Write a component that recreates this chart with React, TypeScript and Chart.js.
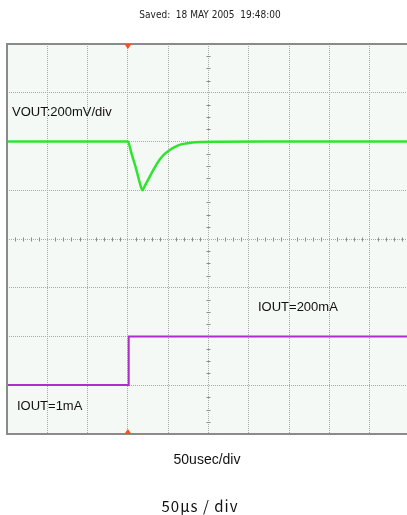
import React, { useEffect, useRef } from "react";
import { Chart, registerables } from "chart.js";

Chart.register(...registerables);

// Time axis: 50 us/div, visible window slightly under 10 divisions (right edge cut off)
const TIME_PER_DIV = 50;
const X_MAX = 496.3;
const TRIGGER_US = 150;

// VOUT channel: 200 mV/div, trace ground placed at +2 div
const VOUT_MV_PER_DIV = 200;
const VOUT_OFFSET_DIV = 2;
const voutTime = [0, 60, 120, 150, 154, 159, 163, 166, 168, 171, 177, 183, 190, 196, 202, 208, 215, 222, 230, 240, 260, 320, 400, 496.3];
const voutMv = [0, 0, 0, 0, -44, -98, -148, -184, -200, -182, -145, -108, -72, -50, -35, -23, -13, -8, -4, -2, -1, 0, 0, 0];

// IOUT channel: 200 mA/div, zero placed at -3 div
const IOUT_MA_PER_DIV = 200;
const IOUT_OFFSET_DIV = -3;
const ioutTime = [0, 151, 151, 496.3];
const ioutMa = [1, 1, 200, 200];

const savedText = "Saved:  18 MAY 2005  19:48:00";
const voutLabel = "VOUT:200mV/div";
const ioutHighLabel = "IOUT=200mA";
const ioutLowLabel = "IOUT=1mA";
const timebaseLabel = "50usec/div";
const timebaseLabel2 = "50\u03bcs / div";

const GREEN = "#2ee52e";
const PURPLE = "#b02ccf";
const GRID = "#aaaaaa";
const FRAME = "#8a8a8a";
const PLOT_BG = "#f4f9f5";
const TRIG = "#f4531c";

const scopePlugin = {
  id: "scopeDecor",
  beforeDraw(chart: any) {
    const { ctx, chartArea } = chart;
    ctx.save();
    ctx.fillStyle = "#ffffff";
    ctx.fillRect(0, 0, chart.width, chart.height);
    ctx.fillStyle = PLOT_BG;
    ctx.fillRect(chartArea.left, chartArea.top, chartArea.right - chartArea.left, chartArea.bottom - chartArea.top);
    ctx.restore();
  },
  afterDatasetsDraw(chart: any) {
    const { ctx, chartArea, scales } = chart;
    const xs = scales.x;
    const ys = scales.y;
    ctx.save();
    // center axis minor ticks
    ctx.strokeStyle = "#8a8a8a";
    ctx.lineWidth = 1;
    const y0 = Math.round(ys.getPixelForValue(0)) + 0.5;
    for (let t = 0; t <= X_MAX; t += TIME_PER_DIV / 5) {
      if (Math.abs(t % TIME_PER_DIV) < 1e-6) continue;
      const px = Math.round(xs.getPixelForValue(t)) + 0.5;
      ctx.beginPath();
      ctx.moveTo(px, y0 - 2);
      ctx.lineTo(px, y0 + 2);
      ctx.stroke();
    }
    const xc = Math.round(xs.getPixelForValue(250)) + 0.5;
    for (let v = -4; v <= 4; v += 0.25) {
      if (Math.abs(v - Math.round(v)) < 1e-6) continue;
      const py = Math.round(ys.getPixelForValue(v)) + 0.5;
      ctx.beginPath();
      ctx.moveTo(xc - 2, py);
      ctx.lineTo(xc + 2, py);
      ctx.stroke();
    }
    // frame
    ctx.strokeStyle = FRAME;
    ctx.lineWidth = 2;
    ctx.beginPath();
    ctx.moveTo(chartArea.right, chartArea.top);
    ctx.lineTo(chartArea.left, chartArea.top);
    ctx.lineTo(chartArea.left, chartArea.bottom);
    ctx.lineTo(chartArea.right, chartArea.bottom);
    ctx.stroke();
    // trigger markers
    const tx = xs.getPixelForValue(TRIGGER_US);
    ctx.fillStyle = TRIG;
    ctx.beginPath();
    ctx.moveTo(tx - 3.5, chartArea.top);
    ctx.lineTo(tx + 3.5, chartArea.top);
    ctx.lineTo(tx, chartArea.top + 5);
    ctx.closePath();
    ctx.fill();
    ctx.beginPath();
    ctx.moveTo(tx - 3.5, chartArea.bottom);
    ctx.lineTo(tx + 3.5, chartArea.bottom);
    ctx.lineTo(tx, chartArea.bottom - 5);
    ctx.closePath();
    ctx.fill();
    ctx.restore();
  },
  afterDraw(chart: any) {
    const { ctx } = chart;
    ctx.save();
    ctx.fillStyle = "#222";
    ctx.textBaseline = "alphabetic";
    ctx.font = '10px "Liberation Sans Narrow", "DejaVu Sans Condensed", sans-serif';
    ctx.textAlign = "center";
    ctx.fillText(savedText, 210, 18);
    ctx.fillStyle = "#111";
    ctx.textAlign = "left";
    ctx.font = '13px "Liberation Sans", Arial, sans-serif';
    ctx.fillText(voutLabel, 12, 116);
    ctx.fillText(ioutHighLabel, 258, 311);
    ctx.fillText(ioutLowLabel, 17, 410);
    ctx.textAlign = "center";
    ctx.font = '14px "Liberation Sans", Arial, sans-serif';
    ctx.fillText(timebaseLabel, 207, 464);
    ctx.font = '15px "Noto Sans CJK JP", "Liberation Sans", sans-serif';
    (ctx as any).letterSpacing = "1px";
    ctx.fillText(timebaseLabel2, 200, 512);
    ctx.restore();
  },
};

export default function App() {
  const ref = useRef<HTMLCanvasElement | null>(null);
  useEffect(() => {
    document.body.style.margin = "0";
    const canvas = ref.current;
    if (!canvas) return;
    const voutData = voutTime.map((t, i) => ({ x: t, y: VOUT_OFFSET_DIV + voutMv[i] / VOUT_MV_PER_DIV }));
    const ioutData = ioutTime.map((t, i) => ({ x: t, y: IOUT_OFFSET_DIV + ioutMa[i] / IOUT_MA_PER_DIV }));
    const chart = new Chart(canvas, {
      type: "line",
      data: {
        datasets: [
          {
            data: voutData,
            borderColor: GREEN,
            borderWidth: 2.5,
            pointRadius: 0,
            cubicInterpolationMode: "monotone",
          },
          {
            data: ioutData,
            borderColor: PURPLE,
            borderWidth: 2,
            pointRadius: 0,
            tension: 0,
          },
        ],
      },
      options: {
        responsive: false,
        maintainAspectRatio: false,
        animation: false,
        devicePixelRatio: 1,
        layout: { padding: { left: 7, top: 44, right: 0, bottom: 81 } },
        plugins: {
          legend: { display: false },
          tooltip: { enabled: false },
          title: { display: false },
        },
        scales: {
          x: {
            type: "linear",
            min: 0,
            max: X_MAX,
            ticks: { display: false, stepSize: TIME_PER_DIV, includeBounds: false },
            grid: { color: GRID, lineWidth: 1, drawTicks: false },
            border: { display: false, dash: [1, 1] },
          },
          y: {
            type: "linear",
            min: -4,
            max: 4,
            ticks: { display: false, stepSize: 1 },
            grid: { color: GRID, lineWidth: 1, drawTicks: false },
            border: { display: false, dash: [1, 1] },
          },
        },
      },
      plugins: [scopePlugin],
    } as any);
    return () => chart.destroy();
  }, []);
  return (
    <div style={{ width: 407, height: 515, overflow: "hidden" }}>
      <canvas ref={ref} width={407} height={515} style={{ display: "block" }} />
    </div>
  );
}
